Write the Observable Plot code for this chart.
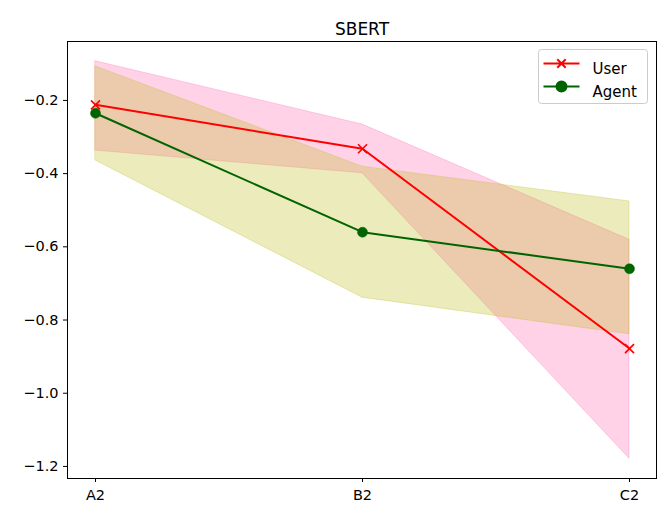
<!DOCTYPE html>
<html>
<head>
<meta charset="utf-8">
<script src="https://cdn.jsdelivr.net/npm/d3@7"></script>
<script src="https://cdn.jsdelivr.net/npm/@observablehq/plot@0.6"></script>
<style>
  html, body { margin: 0; padding: 0; background: white; }
</style>
</head>
<body>
<div id="chart"></div>
<script>
const title = "SBERT";
const categories = ["A2", "B2", "C2"];
const seriesNames = ["User", "Agent"];
const userMean = [-0.212, -0.332, -0.878];
const userLow  = [-0.337, -0.399, -1.179];
const userHigh = [-0.093, -0.266, -0.581];
const agentMean = [-0.235, -0.560, -0.660];
const agentLow  = [-0.364, -0.739, -0.839];
const agentHigh = [-0.107, -0.381, -0.476];
const yTicks = [-0.2, -0.4, -0.6, -0.8, -1.0, -1.2];

const userColor = "#ff0000", agentColor = "#006400";
const userBand = "#ff69b4", agentBand = "#bcbd22";

const user = categories.map((c, i) => ({cat: c, mean: userMean[i], lo: userLow[i], hi: userHigh[i]}));
const agent = categories.map((c, i) => ({cat: c, mean: agentMean[i], lo: agentLow[i], hi: agentHigh[i]}));

const legendUser = {draw(ctx) {
  ctx.moveTo(-18, 0); ctx.lineTo(18, 0);
  const s = 4.2;
  ctx.moveTo(-s, -s); ctx.lineTo(s, s);
  ctx.moveTo(-s, s); ctx.lineTo(s, -s);
}};
const legendAgent = {draw(ctx) {
  ctx.moveTo(-18, 0); ctx.lineTo(18, 0);
  ctx.moveTo(5, 0); ctx.arc(0, 0, 5, 0, 2 * Math.PI);
}};
const xMark = {draw(ctx) {
  const s = 4.5;
  ctx.moveTo(-s, -s); ctx.lineTo(s, s);
  ctx.moveTo(-s, s); ctx.lineTo(s, -s);
}};

const chart = Plot.plot({
  width: 662,
  height: 506,
  marginLeft: 67,
  marginRight: 6,
  marginTop: 41,
  marginBottom: 28,
  style: {fontFamily: "DejaVu Sans", fontSize: "14.5px", background: "white", color: "black"},
  x: {type: "point", domain: categories, padding: 0.1, label: null, tickSize: 4, tickPadding: 7},
  y: {domain: [-1.233, -0.039], ticks: yTicks, tickFormat: d3.format(".1f"), label: null, tickSize: 4, tickPadding: 5},
  marks: [
    Plot.areaY(user, {x: "cat", y1: "lo", y2: "hi", fill: userBand, fillOpacity: 0.3, stroke: userBand, strokeOpacity: 0.3, strokeWidth: 1}),
    Plot.areaY(agent, {x: "cat", y1: "lo", y2: "hi", fill: agentBand, fillOpacity: 0.3, stroke: agentBand, strokeOpacity: 0.3, strokeWidth: 1}),
    Plot.line(user, {x: "cat", y: "mean", stroke: userColor, strokeWidth: 2}),
    Plot.dot(user, {x: "cat", y: "mean", symbol: xMark, stroke: userColor, strokeWidth: 1.6, fill: "none"}),
    Plot.line(agent, {x: "cat", y: "mean", stroke: agentColor, strokeWidth: 2}),
    Plot.dot(agent, {x: "cat", y: "mean", r: 5, fill: agentColor, stroke: agentColor, strokeWidth: 0.5}),
    Plot.frame({stroke: "black", strokeWidth: 1}),
    Plot.frame({insetLeft: 471, insetRight: 9, insetTop: 8, insetBottom: 375, rx: 3, fill: "white", fillOpacity: 0.8, stroke: "#cccccc", strokeWidth: 1}),
    Plot.dot([seriesNames[0]], {frameAnchor: "top-right", dx: -95, dy: 22, symbol: legendUser, stroke: userColor, fill: "none", strokeWidth: 2}),
    Plot.dot([seriesNames[1]], {frameAnchor: "top-right", dx: -95, dy: 45, symbol: legendAgent, stroke: agentColor, fill: agentColor, strokeWidth: 2}),
    Plot.text([seriesNames[0]], {text: d => d, frameAnchor: "top-right", dx: -64, dy: 22, textAnchor: "start", fontSize: 15, fill: "black"}),
    Plot.text([seriesNames[1]], {text: d => d, frameAnchor: "top-right", dx: -64, dy: 45, textAnchor: "start", fontSize: 15, fill: "black"}),
    Plot.text([title], {text: d => d, frameAnchor: "top", dy: -19, fontSize: 17, fill: "black"})
  ]
});
document.getElementById("chart").appendChild(chart);
</script>
</body>
</html>
